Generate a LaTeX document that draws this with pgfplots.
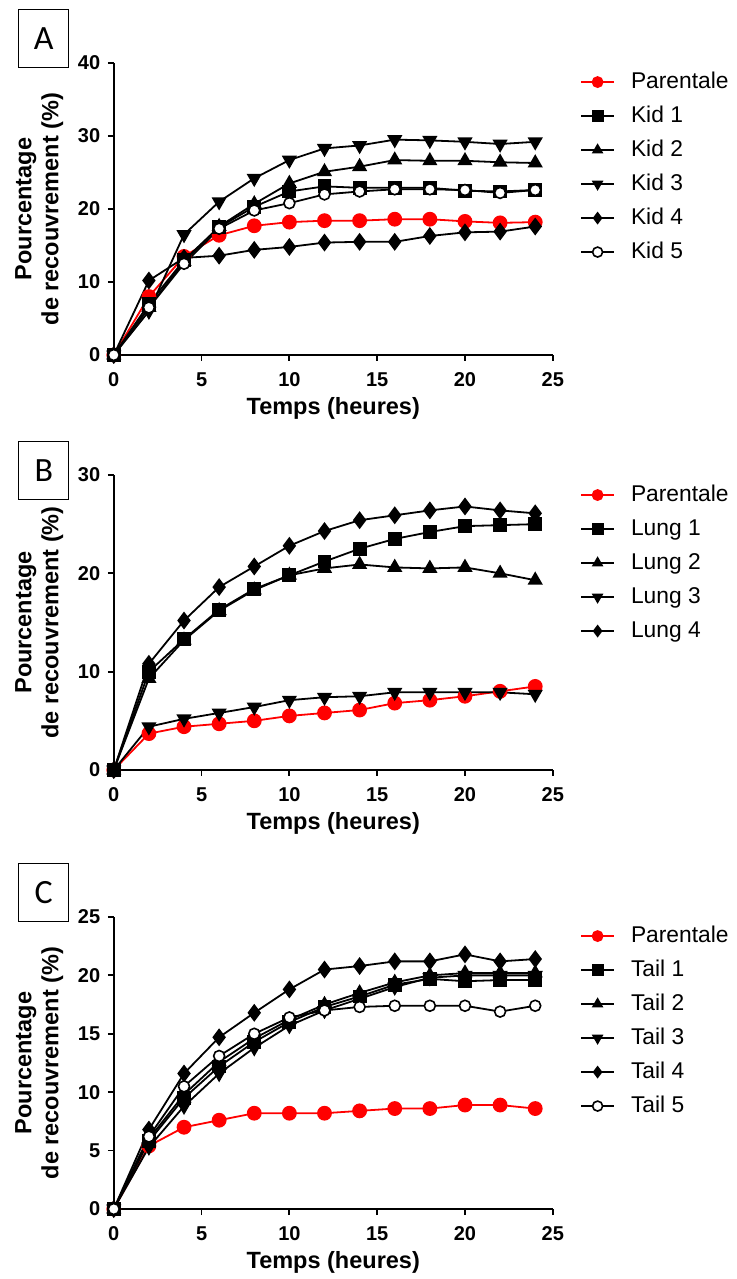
\documentclass[border=0pt]{standalone}
\usepackage{pgfplots}
\pgfplotsset{compat=1.18}
\usepackage{fontspec}
\setmainfont{Liberation Sans}
\newfontfamily\boxfont{Carlito}
\begin{document}
\pgfplotsset{
  panel/.style={
    scale only axis, width=439pt,
    xmin=0, xmax=25, ymin=0,
    axis x line=bottom, axis y line=left,
    axis line style={-, line width=1.8pt},
    every tick/.style={line width=1.8pt, black},
    tick align=outside, major tick length=6pt,
    xtick={0,5,...,25},
    clip=false,
    /pgf/number format/assume math mode=true,
    tick label style={font=\fontsize{20}{24}\selectfont\bfseries},
    xticklabel style={yshift=-8pt},
    yticklabel style={xshift=-4pt},
    xlabel={Temps (heures)},
    ylabel={Pourcentage\\de recouvrement (\%)},
    label style={font=\fontsize{23.5}{27}\selectfont\bfseries},
    xlabel style={at={(axis description cs:0.5,-0.183)}, anchor=center},
    ylabel style={at={(axis description cs:-0.17,0.5)}, anchor=center, align=center},
    legend cell align=left,
    legend style={draw=none, fill=none, anchor=north west, inner sep=0pt,
      font=\fontsize{22.8}{26}\selectfont, row sep=12pt, column sep=16pt,
      nodes={inner sep=0pt, text height=17pt, text depth=5pt}},
    legend image code/.code={\draw[mark repeat=2,mark phase=2,mark size=5pt] plot coordinates {(0pt,0pt)(16.5pt,0pt)(33pt,0pt)};},
    every axis plot/.append style={line width=1.8pt, mark size=6.5pt},
  },
  par/.style={red, mark=*, mark options={solid, fill=red, draw=red}},
  s1/.style={black, mark=square*, mark size=6pt},
  s2/.style={black, mark=triangle*, mark size=7pt},
  s3/.style={black, mark=triangle*, mark options={rotate=180}, mark size=7pt},
  s4/.style={black, mark=diamond*, mark size=7.5pt},
  s5/.style={black, mark=*, mark options={fill=white, draw=black, line width=1.6pt}, mark size=5.5pt},
}
\begin{tikzpicture}
\useasboundingbox (0pt,0pt) rectangle (734pt,1279pt);
% Panel labels
\node[draw, line width=1pt, minimum width=50pt, minimum height=58pt, inner sep=0pt, font=\boxfont\fontsize{34}{36}\selectfont] at (41pt,1240pt) {A};
\node[draw, line width=1pt, minimum width=50pt, minimum height=58pt, inner sep=0pt, font=\boxfont\fontsize{34}{36}\selectfont] at (41pt,808pt) {B};
\node[draw, line width=1pt, minimum width=50pt, minimum height=58pt, inner sep=0pt, font=\boxfont\fontsize{34}{36}\selectfont] at (41pt,386pt) {C};

% ---------- A ----------
\begin{axis}[panel, at={(111pt,924pt)}, anchor=south west, height=292pt, ymax=40, ytick={0,10,...,40},
  legend style={at={(axis description cs:1.062,0.973)}}]
\addplot[par] coordinates {(0,0)(2,8.0)(4,13.5)(6,16.4)(8,17.7)(10,18.2)(12,18.4)(14,18.4)(16,18.6)(18,18.6)(20,18.3)(22,18.1)(24,18.2)};
\addplot[s1] coordinates {(0,0)(2,7.0)(4,13.0)(6,17.5)(8,20.3)(10,22.4)(12,23.1)(14,22.9)(16,22.9)(18,22.9)(20,22.5)(22,22.4)(24,22.6)};
\addplot[s2] coordinates {(0,0)(2,6.5)(4,12.8)(6,17.6)(8,20.7)(10,23.5)(12,25.1)(14,25.8)(16,26.7)(18,26.6)(20,26.6)(22,26.4)(24,26.3)};
\addplot[s3] coordinates {(0,0)(2,6.0)(4,16.5)(6,21.0)(8,24.2)(10,26.7)(12,28.3)(14,28.7)(16,29.5)(18,29.4)(20,29.2)(22,28.9)(24,29.2)};
\addplot[s4] coordinates {(0,0)(2,10.2)(4,13.3)(6,13.6)(8,14.4)(10,14.8)(12,15.4)(14,15.5)(16,15.5)(18,16.3)(20,16.8)(22,16.9)(24,17.6)};
\addplot[s5] coordinates {(0,0)(2,6.5)(4,12.5)(6,17.3)(8,19.8)(10,20.8)(12,22.0)(14,22.4)(16,22.7)(18,22.7)(20,22.6)(22,22.2)(24,22.6)};
\legend{Parentale,Kid 1,Kid 2,Kid 3,Kid 4,Kid 5}
\end{axis}

% ---------- B ----------
\begin{axis}[panel, at={(111pt,509pt)}, anchor=south west, height=295pt, ymax=30, ytick={0,10,...,30},
  xlabel style={at={(axis description cs:0.5,-0.181)}},
  legend style={at={(axis description cs:1.062,0.97)}}]
\addplot[par] coordinates {(0,0)(2,3.7)(4,4.4)(6,4.7)(8,5.0)(10,5.5)(12,5.8)(14,6.1)(16,6.8)(18,7.1)(20,7.5)(22,8.0)(24,8.5)};
\addplot[s1] coordinates {(0,0)(2,10.0)(4,13.3)(6,16.3)(8,18.4)(10,19.8)(12,21.2)(14,22.5)(16,23.5)(18,24.2)(20,24.8)(22,24.9)(24,25.0)};
\addplot[s2] coordinates {(0,0)(2,9.3)(4,13.2)(6,16.2)(8,18.3)(10,19.8)(12,20.5)(14,20.9)(16,20.6)(18,20.5)(20,20.6)(22,20.0)(24,19.3)};
\addplot[s3] coordinates {(0,0)(2,4.4)(4,5.2)(6,5.8)(8,6.4)(10,7.1)(12,7.4)(14,7.5)(16,7.9)(18,7.9)(20,7.9)(22,7.9)(24,7.7)};
\addplot[s4] coordinates {(0,0)(2,10.8)(4,15.2)(6,18.6)(8,20.7)(10,22.8)(12,24.3)(14,25.4)(16,25.9)(18,26.4)(20,26.8)(22,26.4)(24,26.1)};
\legend{Parentale,Lung 1,Lung 2,Lung 3,Lung 4}
\end{axis}

% ---------- C ----------
\begin{axis}[panel, at={(111pt,70pt)}, anchor=south west, height=292pt, ymax=25, ytick={0,5,...,25},
  legend style={at={(axis description cs:1.062,0.973)}}]
\addplot[par] coordinates {(0,0)(2,5.4)(4,7.0)(6,7.6)(8,8.2)(10,8.2)(12,8.2)(14,8.4)(16,8.6)(18,8.6)(20,8.9)(22,8.9)(24,8.6)};
\addplot[s1] coordinates {(0,0)(2,5.8)(4,9.5)(6,12.2)(8,14.3)(10,16.0)(12,17.3)(14,18.2)(16,19.2)(18,19.7)(20,19.5)(22,19.6)(24,19.6)};
\addplot[s2] coordinates {(0,0)(2,6.0)(4,9.8)(6,12.6)(8,14.6)(10,16.2)(12,17.5)(14,18.5)(16,19.4)(18,20.0)(20,20.2)(22,20.2)(24,20.2)};
\addplot[s3] coordinates {(0,0)(2,5.3)(4,8.8)(6,11.6)(8,13.8)(10,15.7)(12,17.0)(14,18.0)(16,19.0)(18,19.8)(20,20.0)(22,20.0)(24,20.0)};
\addplot[s4] coordinates {(0,0)(2,6.8)(4,11.6)(6,14.7)(8,16.8)(10,18.8)(12,20.5)(14,20.8)(16,21.2)(18,21.2)(20,21.8)(22,21.2)(24,21.4)};
\addplot[s5] coordinates {(0,0)(2,6.2)(4,10.5)(6,13.1)(8,15.0)(10,16.4)(12,17.0)(14,17.3)(16,17.4)(18,17.4)(20,17.4)(22,16.9)(24,17.4)};
\legend{Parentale,Tail 1,Tail 2,Tail 3,Tail 4,Tail 5}
\end{axis}
\end{tikzpicture}
\end{document}
